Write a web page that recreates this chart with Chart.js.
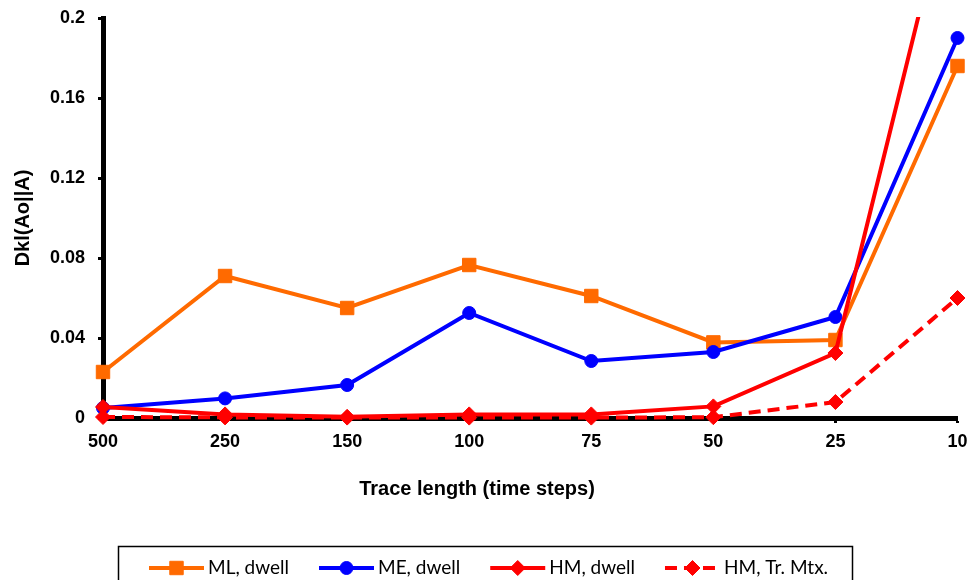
<!DOCTYPE html>
<html><head><meta charset="utf-8">
<script src="https://cdn.jsdelivr.net/npm/chart.js@4/dist/chart.umd.min.js"></script>
<style>html,body{margin:0;padding:0;background:#fff;overflow:hidden}</style>
</head><body>
<canvas id="c" width="968" height="580"></canvas>
<script>
const categories = ['500','250','150','100','75','50','25','10'];
const mlDwell = [0.023, 0.071, 0.055, 0.0765, 0.061, 0.0378, 0.039, 0.176];
const meDwell = [0.005, 0.0098, 0.0165, 0.0525, 0.0285, 0.033, 0.0505, 0.19];
const hmDwell = [0.0055, 0.0018, 0.0006, 0.0018, 0.0018, 0.0058, 0.0325, 0.28];
const hmTrMtx = [0.0005, 0.0003, 0.0002, 0.0002, 0.0002, 0.0004, 0.008, 0.06];
const yTicks = [0, 0.04, 0.08, 0.12, 0.16, 0.2];
const yTickLabels = ['0', '0.04', '0.08', '0.12', '0.16', '0.2'];
const seriesNames = ['ML, dwell', 'ME, dwell', 'HM, dwell', 'HM, Tr. Mtx.'];
const xTitle = 'Trace length (time steps)';
const yTitle = 'Dkl(Ao||A)';

const ORANGE = '#FF6A00', BLUE = '#0000FF', RED = '#FF0000';
const AXFONT = '"Liberation Sans", Arial, sans-serif';

function drawMarker(ctx, style, r, x, y, color) {
  ctx.fillStyle = color; ctx.strokeStyle = color; ctx.lineWidth = 1;
  ctx.beginPath();
  if (style === 'rect') {
    const s = Math.SQRT1_2 * r;
    ctx.rect(x - s, y - s, 2 * s, 2 * s);
  } else if (style === 'circle') {
    ctx.arc(x, y, r, 0, Math.PI * 2);
  } else {
    ctx.moveTo(x - r, y); ctx.lineTo(x, y - r); ctx.lineTo(x + r, y); ctx.lineTo(x, y + r); ctx.closePath();
  }
  ctx.fill(); ctx.stroke();
}

const customPlugin = {
  id: 'custom',
  afterDraw(chart) {
    const ctx = chart.ctx;
    ctx.save();
    ctx.font = 'bold 20px ' + AXFONT;
    ctx.fillStyle = '#000'; ctx.textAlign = 'center'; ctx.textBaseline = 'middle';
    ctx.fillText(xTitle, 477, 489);
    ctx.lineWidth = 1.5; ctx.strokeStyle = '#000';
    ctx.strokeRect(118.5, 546.5, 734, 60);
    let x = 149; const y = 568;
    ctx.font = '19px Lato, "Open Sans", sans-serif';
    chart.data.datasets.forEach(ds => {
      ctx.strokeStyle = ds.borderColor; ctx.lineWidth = 4;
      ctx.setLineDash(ds.borderDash || []);
      ctx.beginPath(); ctx.moveTo(x, y); ctx.lineTo(x + 55, y); ctx.stroke();
      ctx.setLineDash([]);
      drawMarker(ctx, ds.pointStyle, ds.pointRadius, x + 27.5, y, ds.borderColor);
      ctx.fillStyle = '#000'; ctx.textAlign = 'left'; ctx.textBaseline = 'middle';
      ctx.fillText(ds.label, x + 59, y);
      x += 59 + ctx.measureText(ds.label).width + 30;
    });
    ctx.restore();
  }
};

const clipOpt = {top: 1, bottom: 12, left: 12, right: 12};
function ds(label, data, color, style, radius, order, dash) {
  return {
    label, data, borderColor: color, backgroundColor: color,
    pointBackgroundColor: color, pointBorderColor: color, pointBorderWidth: 1,
    pointStyle: style, pointRadius: radius, pointHoverRadius: radius,
    borderWidth: 4, tension: 0, order, clip: clipOpt,
    borderDash: dash || []
  };
}

new Chart(document.getElementById('c'), {
  type: 'line',
  data: {
    labels: categories,
    datasets: [
      ds(seriesNames[0], mlDwell, ORANGE, 'rect', 9.5, 4),
      ds(seriesNames[1], meDwell, BLUE, 'circle', 6.5, 3),
      ds(seriesNames[2], hmDwell, RED, 'rectRot', 7.5, 2),
      ds(seriesNames[3], hmTrMtx, RED, 'rectRot', 7.5, 1, [12, 7])
    ]
  },
  options: {
    responsive: false, animation: false, devicePixelRatio: 1,
    layout: {padding: {top: 18, right: 10, left: 0, bottom: 0}},
    plugins: {legend: {display: false}, tooltip: {enabled: false}},
    scales: {
      x: {
        offset: false,
        grid: {display: true, drawOnChartArea: false, drawTicks: true, tickLength: 5, tickWidth: 3, color: '#000'},
        border: {display: true, color: '#000', width: 5},
        ticks: {color: '#000', font: {family: AXFONT, size: 18, weight: 'bold'}, padding: 8, maxRotation: 0, autoSkip: false},
        afterFit(s) { s.height = 162; s.paddingLeft = 0; s.paddingRight = 0; }
      },
      y: {
        min: 0, max: 0.2,
        afterBuildTicks(s) { s.ticks = yTicks.map(v => ({value: v})); },
        grid: {display: true, drawOnChartArea: false, drawTicks: true, tickLength: 5, tickWidth: 3, color: '#000'},
        border: {display: true, color: '#000', width: 5},
        ticks: {
          color: '#000', font: {family: AXFONT, size: 18, weight: 'bold'}, padding: 13,
          callback: (v) => yTickLabels[yTicks.indexOf(v)]
        },
        title: {display: true, text: yTitle, color: '#000', font: {family: AXFONT, size: 20, weight: 'bold'}, padding: {top: 11, bottom: 4}},
        afterFit(s) { s.width = 103; s.paddingTop = 0; s.paddingBottom = 0; }
      }
    }
  },
  plugins: [customPlugin]
});
</script>
</body></html>
